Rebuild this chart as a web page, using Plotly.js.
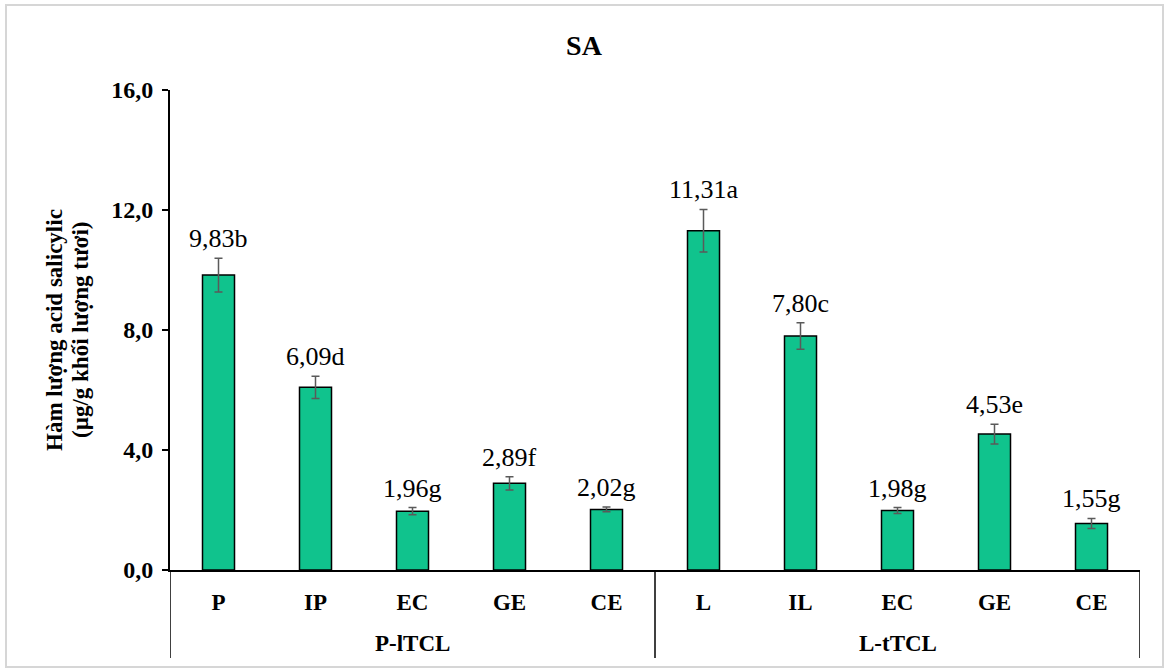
<!DOCTYPE html>
<html>
<head>
<meta charset="utf-8">
<script src="https://cdn.plot.ly/plotly-3.0.1.min.js"></script>
<style>
  html, body { margin: 0; padding: 0; background: #fff; }
  #chart { width: 1168px; height: 671px; }
</style>
</head>
<body>
<div id="chart"></div>
<script>
// Salicylic acid content per explant type, two culture systems
const groups = ['P-lTCL', 'P-lTCL', 'P-lTCL', 'P-lTCL', 'P-lTCL',
                'L-tTCL', 'L-tTCL', 'L-tTCL', 'L-tTCL', 'L-tTCL'];
const treatments = ['P', 'IP', 'EC', 'GE', 'CE', 'L', 'IL', 'EC', 'GE', 'CE'];
const saContent = [9.83, 6.09, 1.96, 2.89, 2.02, 11.31, 7.80, 1.98, 4.53, 1.55];
const saError = [0.56, 0.37, 0.12, 0.22, 0.08, 0.71, 0.44, 0.10, 0.33, 0.17];
const letters = ['b', 'd', 'g', 'f', 'g', 'a', 'c', 'g', 'e', 'g'];
const yTitleLines = ['Hàm lượng acid salicylic', '(µg/g khối lượng tươi)'];

const FONT = '"Liberation Serif", "Times New Roman", serif';

// plot area in pixels: x 170..1140, y 90..570
const W = 1168, H = 671;
const M = { l: 170, r: 28, t: 90, b: 101 };
const plotW = W - M.l - M.r, plotH = H - M.t - M.b;
const px2x = p => (p - M.l) / plotW;
const py2y = p => (H - M.b - p) / plotH;

// one slot per bar; group extents follow from the slot indices
const slots = treatments.map((_, i) => i);
const groupNames = [...new Set(groups)];
const groupSpans = groupNames.map(name => {
  const members = slots.filter(i => groups[i] === name);
  return { name, lo: Math.min(...members) - 0.5, hi: Math.max(...members) + 0.5 };
});
const boundaries = [...new Set(groupSpans.flatMap(g => [g.lo, g.hi]))];

const labels = saContent.map((v, i) => v.toFixed(2).replace('.', ',') + letters[i]);

const bars = {
  type: 'bar',
  x: slots,
  y: saContent,
  width: 0.33,
  marker: { color: '#10C38D', line: { color: '#000', width: 1.5 } },
  error_y: { type: 'data', array: saError, visible: true, color: '#5a5a5a', thickness: 1.5, width: 4 },
  hoverinfo: 'skip'
};

// value + significance letter above each error bar
const valueAnnotations = slots.map(i => ({
  x: i, y: saContent[i] + saError[i], xref: 'x', yref: 'y',
  text: labels[i], showarrow: false,
  xanchor: 'center', yanchor: 'bottom', yshift: 3,
  font: { family: FONT, size: 26, color: '#000' }
}));

// group names below the treatment labels
const groupAnnotations = groupSpans.map(g => ({
  x: (g.lo + g.hi) / 2, y: py2y(643), xref: 'x', yref: 'paper',
  text: '<b>' + g.name + '</b>', showarrow: false,
  xanchor: 'center', yanchor: 'middle',
  font: { family: FONT, size: 23, color: '#000' }
}));

// two-line y-axis title, each line placed on its own
const yTitleAnnotations = yTitleLines.map((line, k) => ({
  text: '<b>' + line + '</b>',
  xref: 'paper', yref: 'paper',
  x: px2x(k === 0 ? 54 : 80), y: 0.5,
  xanchor: 'center', yanchor: 'middle',
  textangle: -90, showarrow: false,
  font: { family: FONT, size: 23, color: '#000' }
}));

// vertical dividers between and around the groups
const dividerShapes = boundaries.map(b => ({
  type: 'line', xref: 'x', yref: 'paper',
  x0: b, x1: b, y0: py2y(658), y1: 0,
  line: { color: '#000', width: 1.5 }
}));

const layout = {
  width: W, height: H,
  margin: M,
  paper_bgcolor: '#fff',
  plot_bgcolor: '#fff',
  separators: ',.',
  showlegend: false,
  title: {
    text: '<b>SA</b>',
    font: { family: FONT, size: 28, color: '#000' },
    x: 0.5, xref: 'container', xanchor: 'center',
    y: 1 - 45 / H, yref: 'container', yanchor: 'middle'
  },
  xaxis: {
    type: 'linear',
    range: [boundaries[0], boundaries[boundaries.length - 1]],
    tickmode: 'array', tickvals: slots, ticktext: treatments,
    showline: true, linecolor: '#000', linewidth: 1.5,
    showgrid: false, zeroline: false, ticks: '',
    ticklabelstandoff: 11,
    tickfont: { family: FONT, size: 23, color: '#000', weight: 'bold' }
  },
  yaxis: {
    range: [0, 16], dtick: 4, tick0: 0, tickformat: '.1f',
    ticks: 'outside', ticklen: 6, tickwidth: 1.5, tickcolor: '#000',
    ticklabelstandoff: 4,
    showline: true, linecolor: '#000', linewidth: 2,
    showgrid: false, zeroline: false,
    tickfont: { family: FONT, size: 24, color: '#000', weight: 'bold' }
  },
  annotations: [...valueAnnotations, ...groupAnnotations, ...yTitleAnnotations],
  shapes: [
    ...dividerShapes,
    {
      type: 'rect', xref: 'paper', yref: 'paper',
      x0: px2x(6), x1: px2x(1163), y0: py2y(667), y1: py2y(5),
      line: { color: '#d6d6d6', width: 2 }, fillcolor: 'rgba(0,0,0,0)', layer: 'below'
    }
  ]
};

Plotly.newPlot('chart', [bars], layout, { displayModeBar: false, staticPlot: true });
</script>
</body>
</html>
